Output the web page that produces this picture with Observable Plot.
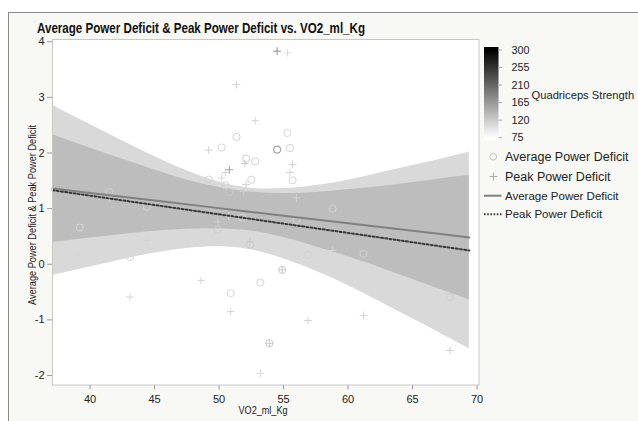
<!DOCTYPE html>
<html><head><meta charset="utf-8">
<script src="https://cdn.jsdelivr.net/npm/d3@7"></script>
<script src="https://cdn.jsdelivr.net/npm/@observablehq/plot@0.6"></script>
<style>
html,body{margin:0;padding:0;background:#fff;}
#chart svg text{fill:#222;}
</style>
</head><body><div id="chart"></div>
<script>
// ---- data ----
const avgVO2 =      [39.2, 41.5, 43.1, 44.4, 49.2, 49.9, 50.2, 50.5, 50.8, 50.9, 51.35, 51.8, 52.1, 52.4, 52.5, 52.8, 53.2, 53.9, 54.5, 54.9, 55.3, 55.5, 55.7, 56.0, 56.9, 58.8, 61.2, 67.9];
const avgDeficit =  [0.66, 1.30, 0.13, 1.03, 1.52, 0.62, 2.10, 1.42, 1.30, -0.52, 2.29, 0.84, 1.90, 0.35, 1.52, 1.85, -0.33, -1.42, 2.06, -0.10, 2.36, 2.09, 1.51, 0.80, 0.17, 1.00, 0.19, -0.59];
const avgStrength = [112, 118, 110, 112, 115, 118, 110, 115, 122, 110, 115, 110, 118, 122, 115, 115, 110, 122, 175, 122, 110, 115, 110, 115, 115, 115, 115, 118];

const peakVO2 =      [39.2, 41.5, 43.1, 44.4, 48.6, 49.2, 49.9, 50.2, 50.5, 50.8, 50.75, 50.9, 51.35, 51.9, 52.0, 52.1, 52.4, 52.8, 53.2, 53.9, 54.5, 54.9, 55.3, 55.5, 55.7, 56.0, 56.9, 58.8, 61.2, 67.9];
const peakDeficit =  [0.19, 1.18, -0.59, 0.43, -0.29, 2.05, 0.76, 1.55, 1.65, 1.70, 0.87, -0.85, 3.23, 1.31, 1.81, 1.43, 0.41, 2.58, -1.96, -1.42, 3.83, -0.10, 3.80, 1.65, 1.79, 1.19, -1.01, 0.25, -0.92, -1.55];
const peakStrength = [112, 118, 110, 112, 110, 115, 118, 110, 115, 155, 115, 110, 115, 118, 122, 118, 122, 115, 110, 122, 175, 122, 105, 115, 115, 115, 115, 115, 115, 118];

// fitted lines and confidence bands (read at these VO2 values)
const fitX    = [37.1, 40, 43, 46, 49, 52, 55, 58, 61, 64, 67, 69.4];
const avgFit  = [1.36, 1.281, 1.200, 1.118, 1.036, 0.955, 0.873, 0.792, 0.710, 0.628, 0.547, 0.481];
const avgLo   = [0.39, 0.47, 0.55, 0.61, 0.64, 0.61, 0.48, 0.28, 0.06, -0.19, -0.44, -0.64];
const avgHi   = [2.33, 2.09, 1.85, 1.62, 1.43, 1.31, 1.27, 1.30, 1.36, 1.44, 1.53, 1.60];
const peakFit = [1.33, 1.233, 1.132, 1.032, 0.931, 0.831, 0.730, 0.630, 0.530, 0.429, 0.328, 0.248];
const peakLo  = [-0.20, -0.05, 0.11, 0.24, 0.31, 0.28, 0.10, -0.17, -0.50, -0.86, -1.22, -1.52];
const peakHi  = [2.86, 2.51, 2.16, 1.83, 1.55, 1.38, 1.36, 1.43, 1.56, 1.72, 1.88, 2.02];

const xTicks = [40, 45, 50, 55, 60, 65, 70];
const yTicks = [-2, -1, 0, 1, 2, 3, 4];
const legendTicks = [75, 120, 165, 210, 255, 300];

const titleText = "Average Power Deficit & Peak Power Deficit vs. VO2_ml_Kg";
const xLabel = "VO2_ml_Kg";
const yLabel = "Average Power Deficit & Peak Power Deficit";
const colorLabel = "Quadriceps Strength";
const seriesNames = ["Average Power Deficit", "Peak Power Deficit"];

// ---- build tables ----
const avgPts = avgVO2.map((x, i) => ({x, y: avgDeficit[i], s: avgStrength[i]}));
const peakPts = peakVO2.map((x, i) => ({x, y: peakDeficit[i], s: peakStrength[i]}));
const fit = fitX.map((x, i) => ({x, a: avgFit[i], aLo: avgLo[i], aHi: avgHi[i], p: peakFit[i], pLo: peakLo[i], pHi: peakHi[i]}));

const plot = Plot.plot({
  width: 638, height: 421,
  marginLeft: 52, marginRight: 159.5, marginTop: 39, marginBottom: 36.5,
  style: {fontFamily: "'Liberation Sans', Arial, sans-serif", fontSize: "11px", color: "#999", background: "transparent", overflow: "visible"},
  x: {domain: [37.09, 70.15], ticks: xTicks, tickFormat: d => String(d), tickSize: 5, tickPadding: 5, label: null},
  y: {domain: [-2.17, 4.04], ticks: yTicks, tickFormat: d => String(d), tickSize: 5, tickPadding: 3, label: null},
  color: {type: "linear", domain: [75, 300], range: ["white", "black"]},
  marks: [
    Plot.frame({fill: "white", stroke: "none"}),
    Plot.areaY(fit, {x: "x", y1: "pLo", y2: "pHi", fill: "#d9d9d9", curve: "natural"}),
    Plot.areaY(fit, {x: "x", y1: "aLo", y2: "aHi", fill: "#bdbdbd", curve: "natural"}),
    Plot.dot(avgPts, {x: "x", y: "y", stroke: "s", r: 3.6, strokeWidth: 1, symbol: "circle"}),
    Plot.dot(peakPts, {x: "x", y: "y", stroke: "s", r: 2.6, strokeWidth: 1, symbol: "plus"}),
    Plot.line(fit, {x: "x", y: "a", stroke: "#808080", strokeWidth: 2}),
    Plot.line(fit, {x: "x", y: "p", stroke: "#3a3a3a", strokeWidth: 2, strokeDasharray: "2,2.2"}),
    Plot.frame({stroke: "#c8c8c8"})
  ]
});

document.getElementById("chart").appendChild(plot);

// ---- decorations: background, title, labels, legend ----
const svg = d3.select(plot);
svg.insert("rect", ":first-child")
  .attr("x", 8.5).attr("y", 12.5).attr("width", 640).attr("height", 420)
  .attr("fill", "#f8f8f5").attr("stroke", "#8a8a8a");

const deco = svg.append("g").attr("text-anchor", "start");

deco.append("text").text(titleText)
  .attr("x", 37).attr("y", 33.3)
  .attr("font-size", 15).attr("font-weight", "bold")
  .attr("textLength", 328).attr("lengthAdjust", "spacingAndGlyphs")
  .style("fill", "#111");

deco.append("text").text(xLabel)
  .attr("x", 263).attr("y", 413.5).attr("text-anchor", "middle")
  .attr("font-size", 11).attr("textLength", 49).attr("lengthAdjust", "spacingAndGlyphs");

deco.append("text").text(yLabel)
  .attr("transform", "translate(36,215) rotate(-90)").attr("text-anchor", "middle")
  .attr("font-size", 11).attr("textLength", 180).attr("lengthAdjust", "spacingAndGlyphs");

// color legend
const color = plot.scale("color");
const ly = d3.scaleLinear().domain([75, 300]).range([137.7, 50]);
const defs = svg.append("defs");
const grad = defs.append("linearGradient").attr("id", "qgrad")
  .attr("gradientUnits", "userSpaceOnUse")
  .attr("x1", 0).attr("x2", 0).attr("y1", ly(75)).attr("y2", ly(300));
const cs = d3.scaleLinear().domain(color.domain).range(color.range);
legendTicks.forEach(v => {
  grad.append("stop").attr("offset", (v - 75) / 225).attr("stop-color", cs(v));
});
deco.append("rect").attr("x", 484).attr("y", 47).attr("width", 14.5).attr("height", 93)
  .attr("fill", "url(#qgrad)");
legendTicks.forEach(v => {
  deco.append("line").attr("x1", 498.5).attr("x2", 502).attr("y1", ly(v)).attr("y2", ly(v))
    .attr("stroke", "#aaa");
  deco.append("text").text(String(v)).attr("x", 511.5).attr("y", ly(v)).attr("dy", "0.35em")
    .attr("font-size", 10.8);
});
deco.append("text").text(colorLabel).attr("x", 531.5).attr("y", 95).attr("dy", "0.35em")
  .attr("font-size", 11.2);

// series legend
deco.append("circle").attr("cx", 493.3).attr("cy", 156.7).attr("r", 3.4)
  .attr("fill", "none").attr("stroke", "#c4c4c4");
deco.append("path").attr("d", "M489.5,176.5h8M493.5,172.5v8").attr("stroke", "#aaa").attr("fill", "none");
deco.append("text").text(seriesNames[0]).attr("x", 505).attr("y", 156.5).attr("dy", "0.35em").attr("font-size", 12.5);
deco.append("text").text(seriesNames[1]).attr("x", 505).attr("y", 176.5).attr("dy", "0.35em").attr("font-size", 12.5);
deco.append("line").attr("x1", 484).attr("x2", 501.5).attr("y1", 195.7).attr("y2", 195.7)
  .attr("stroke", "#808080").attr("stroke-width", 2);
deco.append("line").attr("x1", 484).attr("x2", 501.5).attr("y1", 214.3).attr("y2", 214.3)
  .attr("stroke", "#3a3a3a").attr("stroke-width", 2).attr("stroke-dasharray", "1.6,1.6");
deco.append("text").text(seriesNames[0]).attr("x", 505).attr("y", 195.7).attr("dy", "0.35em").attr("font-size", 11.5);
deco.append("text").text(seriesNames[1]).attr("x", 505).attr("y", 214.3).attr("dy", "0.35em").attr("font-size", 11.5);
</script>
</body></html>
